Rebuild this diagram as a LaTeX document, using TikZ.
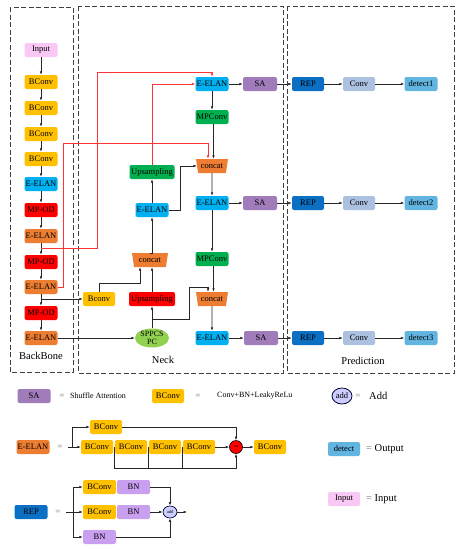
\documentclass[tikz,border=0pt]{standalone}
\usepackage{fontspec}
\setmainfont{Liberation Serif}
\usetikzlibrary{arrows.meta,shapes.geometric,calc}
\definecolor{cInput}{HTML}{F9C8F5}
\definecolor{cBConv}{HTML}{FFC000}
\definecolor{cBlue}{HTML}{00B0F0}
\definecolor{cRed}{HTML}{FF0000}
\definecolor{cOrange}{HTML}{ED7D31}
\definecolor{cGreen}{HTML}{00B050}
\definecolor{cLGreen}{HTML}{92D050}
\definecolor{cSA}{HTML}{A07CBA}
\definecolor{cREP}{HTML}{0B6FC4}
\definecolor{cConv}{HTML}{ABC1DF}
\definecolor{cDetect}{HTML}{62B5E0}
\definecolor{cBN}{HTML}{C9A0F0}
\definecolor{cAdd}{HTML}{CCCCFF}
\definecolor{cRedLine}{HTML}{FF3535}
\definecolor{cDash}{HTML}{404040}
\tikzset{
  box/.style={rectangle, rounded corners=2pt, minimum width=33pt, minimum height=14pt, inner sep=0pt, font=\fontsize{8.5}{9}\selectfont, text=black},
  trap/.style={trapezium, trapezium angle=67, shape border rotate=180, trapezium stretches body, fill=cOrange, minimum width=32pt, minimum height=14pt, inner sep=0pt, font=\fontsize{8.5}{9}\selectfont},
  arr/.style={-{Latex[length=3.5pt,width=2.6pt]}, line width=0.6pt, draw=black!85},
  plain/.style={line width=0.6pt, draw=black!85},
  redarr/.style={-{Latex[length=3.5pt,width=2.6pt]}, line width=0.6pt, draw=cRedLine},
  dbox/.style={draw=cDash, line width=1pt, dash pattern=on 5pt off 2.5pt},
  lbl/.style={font=\fontsize{10.5}{12}\selectfont, inner sep=0pt},
  eqs/.style={font=\fontsize{9}{10}\selectfont, text=black!55, inner sep=0pt},
  smalltxt/.style={font=\fontsize{8}{9}\selectfont, inner sep=0pt, anchor=west},
}
\begin{document}
\begin{tikzpicture}[x=1pt,y=-1pt]
\useasboundingbox (0,0) rectangle (462,550);
% dashed frames
\draw[dbox] (10,7) rectangle (73,372);
\draw[dbox] (78,6) rectangle (283,373);
\draw[dbox] (287,6) rectangle (454,373);
\node[lbl] (lbb) at (41,356) {BackBone};
\node[lbl] (lneck) at (163,360) {Neck};
\node[lbl] (lpred) at (363,361) {Prediction};

% backbone
\node[box,fill=cInput] (in) at (41,50) {Input};
\node[box,fill=cBConv] (b1) at (41,82) {BConv};
\node[box,fill=cBConv] (b2) at (41,108) {BConv};
\node[box,fill=cBConv] (b3) at (41,134) {BConv};
\node[box,fill=cBConv] (b4) at (41,159) {BConv};
\node[box,fill=cBlue] (e1) at (41,184) {E-ELAN};
\node[box,fill=cRed] (m1) at (41,210) {MP-OD};
\node[box,fill=cOrange] (e2) at (41,236) {E-ELAN};
\node[box,fill=cRed] (m2) at (41,262) {MP-OD};
\node[box,fill=cOrange] (e3) at (41,287) {E-ELAN};
\node[box,fill=cRed] (m3) at (41,313) {MP-OD};
\node[box,fill=cOrange] (e4) at (41,338) {E-ELAN};
\foreach \a/\b in {in/b1,b1/b2,b2/b3,b3/b4,b4/e1,e1/m1,m1/e2,e2/m2,m2/e3,e3/m3,m3/e4}
  \draw[arr] (\a.south) -- (\b.north);

% neck
\node[box,fill=cBlue] (n1) at (212,84) {E-ELAN};
\node[box,fill=cGreen] (mp1) at (212,117) {MPConv};
\node[trap] (cat1) at (212,166) {concat};
\node[box,fill=cBlue] (n2) at (212,203) {E-ELAN};
\node[box,fill=cGreen] (mp2) at (212,259) {MPConv};
\node[trap] (cat2) at (212,299) {concat};
\node[box,fill=cBlue] (n3) at (212,338) {E-ELAN};
\node[box,fill=cSA,minimum width=34pt] (sa1) at (260,84) {SA};
\node[box,fill=cSA,minimum width=34pt] (sa2) at (260,203) {SA};
\node[box,fill=cSA,minimum width=34pt] (sa3) at (261,338) {SA};
\node[box,fill=cGreen,minimum width=45pt] (u1) at (152,172) {Upsampling};
\node[box,fill=cBlue] (le) at (152,210) {E-ELAN};
\node[trap,minimum width=36pt] (catl) at (150,260) {concat};
\node[box,fill=cRed,minimum width=46pt] (u2) at (152,299) {Upsampling};
\node[box,fill=cBConv,minimum width=32pt] (bc) at (99,299) {Bconv};
\node[ellipse,fill=cLGreen,minimum width=34pt,minimum height=19pt,inner sep=0pt] (spp) at (152,338) {};
\node[font=\fontsize{8}{7.5}\selectfont,align=center,inner sep=0pt] (spptxt) at (spp) {SPPCS\\PC};

% prediction
\foreach \i/\y in {1/84,2/203,3/338}{
  \node[box,fill=cREP,minimum width=32pt] (rep\i) at (308,\y) {REP};
  \node[box,fill=cConv,minimum width=32pt] (cv\i) at (359,\y) {Conv};
  \node[box,fill=cDetect,minimum width=33pt] (dt\i) at (421,\y) {detect\i};
  \draw[arr] (sa\i.east) -- (rep\i.west);
  \draw[arr] (rep\i.east) -- (cv\i.west);
  \draw[arr] (cv\i.east) -- (dt\i.west);
}
\draw[arr] (n1.east) -- (sa1.west);
\draw[arr] (n2.east) -- (sa2.west);
\draw[arr] (n3.east) -- (sa3.west);
\draw[arr] (n1.south) -- (mp1.north);
\draw[arr] ([xshift=1.5pt]mp1.south) -- ([xshift=1.5pt]mp1.south |- cat1.north);
\draw[arr] (cat1.south) -- (n2.north);
\draw[arr] (n2.south) -- (mp2.north);
\draw[arr] ([xshift=1.5pt]mp2.south) -- ([xshift=1.5pt]mp2.south |- cat2.north);
\draw[arr] (cat2.south) -- (n3.north);
\draw[arr] (le.north) -- (u1.south);
\draw[arr] (le.east) -- (180,210) |- (cat1.west);
\draw[arr] (catl.north) -- (catl.north -| le.south) -- (le.south);
\coordinate (k1) at (140,283);
\draw[arr] (bc.north) |- (k1) -- (k1 |- catl.south);
\draw[arr] (u2.north) -- (u2.north |- catl.south);
\draw[arr] (spp.north) -- (u2.south);
\coordinate (k2) at (152,319);
\draw[arr] (k2) -| (189,287) -| ([xshift=-4pt]cat2.north);
\draw[arr] (e4.east) -- (spp.west);
\coordinate (k3) at (41,299);
\draw[arr] (k3) -- (bc.west);

% red connectors
\coordinate (r1) at (41,248);
\draw[redarr] (r1) -| (97,72) -| (n1.north);
\draw[redarr] (e3.east) -| (63,143) -| ([xshift=-4pt]cat1.north);
\draw[redarr] (u1.north) |- (n1.west);

% legend row 1
\node[box,fill=cSA] (lsa) at (34,396) {SA};
\node[eqs] (eq1) at (62,396) {=};
\node[smalltxt] (tsa) at (70,396) {Shuffle Attention};
\node[box,fill=cBConv,minimum width=32pt] (lbc) at (168,396) {BConv};
\node[eqs] (eq2) at (198,396) {=};
\node[smalltxt] (tbc) at (217,396) {Conv+BN+LeakyReLu};
\node[ellipse,fill=cAdd,draw=black!80!blue,line width=0.8pt,minimum width=20pt,minimum height=16pt,inner sep=0pt,font=\fontsize{8.5}{9}\selectfont] (ladd) at (342,396) {add};
\node[eqs] (eq3) at (358,396) {=};
\node[lbl,anchor=west] (tadd) at (369,396) {Add};

% legend E-ELAN
\node[box,fill=cOrange] (lel) at (33,447) {E-ELAN};
\node[eqs] (eq4) at (60,447) {=};
\coordinate (ls) at (68,447);
\node[box,fill=cBConv,minimum width=32pt] (lt) at (106,427) {BConv};
\node[box,fill=cBConv,minimum width=32pt] (lb1) at (97,447) {BConv};
\node[box,fill=cBConv,minimum width=32pt] (lb2) at (131,447) {BConv};
\node[box,fill=cBConv,minimum width=32pt] (lb3) at (165,447) {BConv};
\node[box,fill=cBConv,minimum width=32pt] (lb4) at (199,447) {BConv};
\node[circle,fill=cRed,draw=black,line width=0.6pt,minimum size=13pt,inner sep=0pt,font=\fontsize{3.5}{4}\selectfont] (lcat) at (236,447) {cat};
\node[box,fill=cBConv,minimum width=32pt] (lb5) at (270,447) {BConv};
\draw[arr] (ls) -- (lb1.west);
\draw[arr] (72,447) |- (lt.west);
\draw[arr] (lt.east) -| (lcat.north);
\draw[arr] (lb4.east) -- (lcat.west);
\draw[arr] (lcat.east) -- (lb5.west);
\draw[plain] (114,447) -- (114,468);
\draw[plain] (148,447) -- (148,468);
\draw[plain] (182,447) -- (182,468);
\draw[arr] (114,468) -| (lcat.south);
\node[box,fill=cDetect,minimum width=32pt] (ldt) at (344,449) {detect};
\node[lbl,anchor=west] (tdt) at (366,449) {{\color{black!55}=} Output};

% legend REP
\node[box,fill=cREP] (lrep) at (31,512) {REP};
\node[eqs] (eq5) at (58,512) {=};
\coordinate (rs) at (66,512);
\node[box,fill=cBConv] (rb1) at (99.5,487) {BConv};
\node[box,fill=cBN] (rn1) at (133.5,487) {BN};
\node[box,fill=cBConv] (rb2) at (99.5,512) {BConv};
\node[box,fill=cBN] (rn2) at (133.5,512) {BN};
\node[box,fill=cBN] (rn3) at (99.5,537) {BN};
\node[ellipse,fill=cAdd,draw=black!80!blue,line width=0.7pt,minimum width=14pt,minimum height=12pt,inner sep=0pt,font=\fontsize{4.5}{5}\selectfont] (radd) at (170,512) {add};
\coordinate (re) at (187,512);
\draw[arr] (rs) -- (rb2.west);
\draw[plain] (73,487) -- (73,537);
\draw[arr] (73,487) -- (rb1.west);
\draw[arr] (73,537) -- (rn3.west);
\draw[arr] (rn1.east) -| (radd.north);
\draw[arr] (rn2.east) -- (radd.west);
\draw[arr] (rn3.east) -| (radd.south);
\draw[arr] (radd.east) -- (re);
\node[box,fill=cInput,minimum width=32pt] (lin) at (344,499) {Input};
\node[lbl,anchor=west] (tin) at (366,499) {{\color{black!55}=} Input};
\end{tikzpicture}
\end{document}
